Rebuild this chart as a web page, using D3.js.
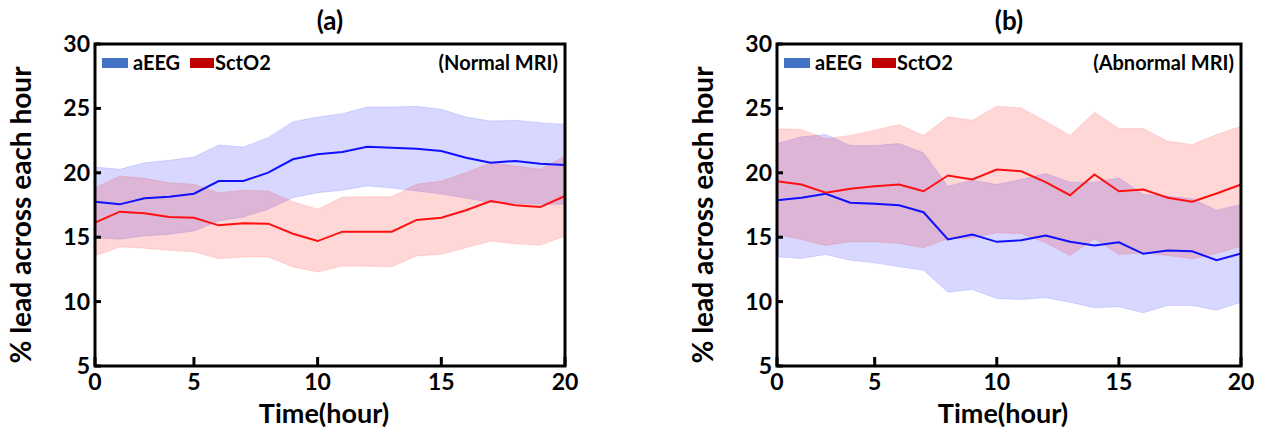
<!DOCTYPE html>
<html>
<head>
<meta charset="UTF-8">
<title>aEEG vs SctO2 lead</title>
<script src="https://d3js.org/d3.v7.min.js"></script>
<style>
  body { margin: 0; background: #fff; }
  text { font-family: Lato, "Open Sans", sans-serif; font-weight: bold; fill: #000; }
</style>
</head>
<body>
<svg id="chart" width="1268" height="430"></svg>
<script>
// hours 1..20 are shown, the first one is labelled "0" on the axis
const hours = [1, 2, 3, 4, 5, 6, 7, 8, 9, 10, 11, 12, 13, 14, 15, 16, 17, 18, 19, 20];
const tickHours = [1, 5, 10, 15, 20];
const tickLabels = ["0", "5", "10", "15", "20"];
const yTicks = [5, 10, 15, 20, 25, 30];

// (a) Normal MRI
const aeegMeanA  = [17.76, 17.55, 18.02, 18.14, 18.38, 19.36, 19.36, 20.01, 21.05, 21.44, 21.62, 22.03, 21.95, 21.87, 21.69, 21.17, 20.78, 20.92, 20.71, 20.61];
const aeegUpperA = [20.45, 20.27, 20.78, 20.97, 21.23, 22.16, 22.0, 22.73, 23.97, 24.33, 24.59, 25.11, 25.11, 25.16, 24.93, 24.33, 24.02, 24.08, 23.89, 23.77];
const aeegLowerA = [14.96, 14.84, 15.09, 15.22, 15.48, 16.26, 16.57, 17.17, 18.07, 18.46, 18.64, 18.98, 18.82, 18.59, 18.35, 18.04, 17.68, 17.63, 17.55, 17.55];
const sctMeanA  = [16.13, 16.98, 16.86, 16.57, 16.51, 15.92, 16.08, 16.05, 15.27, 14.7, 15.43, 15.43, 15.43, 16.34, 16.51, 17.09, 17.81, 17.48, 17.34, 18.2];
const sctUpperA = [18.84, 19.75, 19.57, 19.23, 19.11, 18.46, 18.64, 18.59, 17.76, 17.17, 18.12, 18.14, 18.14, 19.11, 19.36, 20.01, 20.78, 20.53, 20.27, 21.3];
const sctLowerA = [13.54, 14.24, 14.14, 13.98, 13.87, 13.33, 13.46, 13.46, 12.69, 12.3, 12.76, 12.74, 12.71, 13.54, 13.67, 14.18, 14.7, 14.49, 14.37, 15.09];

// (b) Abnormal MRI
const aeegMeanB  = [17.87, 18.06, 18.37, 17.67, 17.6, 17.48, 16.94, 14.82, 15.21, 14.64, 14.77, 15.13, 14.64, 14.36, 14.61, 13.71, 13.97, 13.91, 13.21, 13.73];
const aeegUpperB = [22.27, 22.8, 22.97, 22.12, 22.12, 22.27, 21.55, 18.96, 19.43, 19.09, 19.48, 19.95, 19.27, 19.27, 19.61, 18.32, 18.19, 17.98, 17.1, 17.54];
const aeegLowerB = [13.48, 13.35, 13.66, 13.21, 13.01, 12.7, 12.44, 10.73, 10.94, 10.24, 10.16, 10.3, 9.95, 9.52, 9.6, 9.13, 9.7, 9.7, 9.33, 9.95];
const sctMeanB  = [19.35, 19.09, 18.45, 18.76, 18.96, 19.09, 18.57, 19.79, 19.48, 20.26, 20.12, 19.27, 18.26, 19.87, 18.57, 18.7, 18.06, 17.75, 18.39, 19.09];
const sctUpperB = [23.42, 23.36, 22.64, 22.9, 23.31, 23.75, 22.9, 24.35, 24.08, 25.17, 25.04, 24.0, 22.9, 24.71, 23.44, 23.44, 22.45, 22.2, 22.97, 23.62];
const sctLowerB = [15.21, 14.82, 14.36, 14.64, 14.64, 14.51, 14.18, 14.88, 14.95, 15.34, 15.29, 14.57, 13.58, 14.88, 13.66, 13.79, 13.58, 13.32, 13.73, 14.3];

const svg = d3.select("#chart");
const plotTop = 44, plotBottom = 366;

function drawPanel(p) {
    const x = d3.scaleLinear().domain([1, 20]).range([p.left, p.right]);
    const y = d3.scaleLinear().domain([5, 30]).range([plotBottom, plotTop]);
    const g = svg.append("g");

    const area = (lo, hi) => d3.area()
        .x((d, i) => x(hours[i]))
        .y0((d, i) => y(lo[i]))
        .y1((d, i) => y(hi[i]))(hours);
    const line = vals => d3.line()
        .x((d, i) => x(hours[i]))
        .y(d => y(d))(vals);

    // bands
    g.append("path").attr("d", area(p.aLo, p.aHi))
        .attr("fill", "rgba(20,20,255,0.17)").attr("stroke", "rgba(20,20,255,0.12)");
    g.append("path").attr("d", area(p.sLo, p.sHi))
        .attr("fill", "rgba(255,20,20,0.17)").attr("stroke", "rgba(255,20,20,0.12)");

    // mean lines
    g.append("path").attr("d", line(p.aMean))
        .attr("fill", "none").attr("stroke", "#1010ff").attr("stroke-width", 2);
    g.append("path").attr("d", line(p.sMean))
        .attr("fill", "none").attr("stroke", "#ff1010").attr("stroke-width", 2);

    // frame
    g.append("rect")
        .attr("x", p.left).attr("y", plotTop)
        .attr("width", p.right - p.left).attr("height", plotBottom - plotTop)
        .attr("fill", "none").attr("stroke", "#000").attr("stroke-width", 3);

    // y ticks (inside)
    g.selectAll(".yt").data(yTicks).enter().append("line")
        .attr("x1", p.left).attr("x2", p.left + 6)
        .attr("y1", d => y(d)).attr("y2", d => y(d))
        .attr("stroke", "#000").attr("stroke-width", 3);
    g.selectAll(".yl").data(yTicks).enter().append("text")
        .attr("x", p.left - 5).attr("y", d => y(d) + 8)
        .attr("text-anchor", "end").attr("font-size", 23)
        .text(d => d);

    // x ticks (inside)
    g.selectAll(".xt").data(tickHours).enter().append("line")
        .attr("x1", d => x(d)).attr("x2", d => x(d))
        .attr("y1", plotBottom).attr("y2", plotBottom - 9)
        .attr("stroke", "#000").attr("stroke-width", 3);
    g.selectAll(".xl").data(tickHours).enter().append("text")
        .attr("x", d => x(d)).attr("y", plotBottom + 24)
        .attr("text-anchor", "middle").attr("font-size", 23)
        .text((d, i) => tickLabels[i]);

    // axis titles
    const mid = (p.left + p.right) / 2;
    g.append("text").attr("x", mid - 6).attr("y", 423)
        .attr("text-anchor", "middle").attr("font-size", 27).text("Time(hour)");
    g.append("text")
        .attr("transform", `translate(${p.left - 64},${(plotTop + plotBottom) / 2 + 10}) rotate(-90)`)
        .attr("text-anchor", "middle").attr("font-size", 28).text("% lead across each hour");
    g.append("text").attr("x", mid).attr("y", 30)
        .attr("text-anchor", "middle").attr("font-size", 26).text(p.title);

    // legend
    const ly = 63;
    g.append("rect").attr("x", p.left + 7).attr("y", ly - 5).attr("width", 26).attr("height", 10).attr("fill", "#4472c4");
    g.append("text").attr("x", p.left + 38).attr("y", ly + 7).attr("font-size", 20).text("aEEG");
    g.append("rect").attr("x", p.left + 95).attr("y", ly - 5).attr("width", 24).attr("height", 10).attr("fill", "#c00000");
    g.append("text").attr("x", p.left + 120).attr("y", ly + 7).attr("font-size", 20).text("SctO2");
    g.append("text").attr("x", p.right - 7).attr("y", ly + 7)
        .attr("text-anchor", "end").attr("font-size", 20).text(p.note);
}

drawPanel({ left: 95, right: 565, title: "(a)", note: "(Normal MRI)",
    aMean: aeegMeanA, aHi: aeegUpperA, aLo: aeegLowerA,
    sMean: sctMeanA, sHi: sctUpperA, sLo: sctLowerA });
drawPanel({ left: 777, right: 1241, title: "(b)", note: "(Abnormal MRI)",
    aMean: aeegMeanB, aHi: aeegUpperB, aLo: aeegLowerB,
    sMean: sctMeanB, sHi: sctUpperB, sLo: sctLowerB });
</script>
</body>
</html>
